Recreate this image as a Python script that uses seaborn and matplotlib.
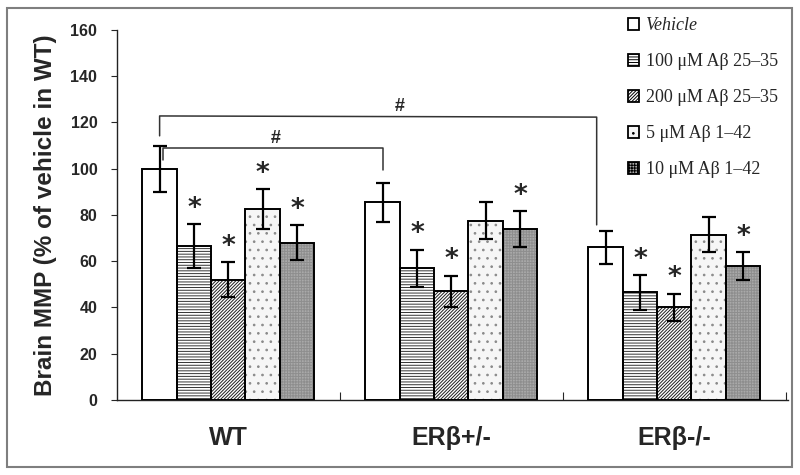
import numpy as np
import pandas as pd
import seaborn as sns
import matplotlib.pyplot as plt
from matplotlib.patches import Patch, Rectangle

# data
genotypes = ["WT", "ERβ+/-", "ERβ-/-"]
treatments = ["Vehicle", "100 μM Aβ 25–35", "200 μM Aβ 25–35",
              "5 μM Aβ 1–42", "10 μM Aβ 1–42"]
mmp_wt = [100, 66.5, 52, 82.5, 68]
mmp_het = [85.5, 57, 47, 77.5, 74]
mmp_ko = [66, 46.5, 40, 71.5, 58]
sem_wt = [10, 9.5, 7.5, 8.5, 7.5]
sem_het = [8.5, 8, 6.7, 8, 7.7]
sem_ko = [7, 7.5, 6, 7.5, 6]
# which bars carry a "*" (vs vehicle)
star_wt = [0, 1, 1, 1, 1]
star_het = [0, 1, 1, 0, 1]
star_ko = [0, 1, 1, 0, 1]

rows = []
for g, vals, errs, stars in zip(genotypes, [mmp_wt, mmp_het, mmp_ko],
                                [sem_wt, sem_het, sem_ko],
                                [star_wt, star_het, star_ko]):
    for t, v, e, s in zip(treatments, vals, errs, stars):
        rows.append({"genotype": g, "treatment": t, "mmp": v, "sem": e, "star": s})
df = pd.DataFrame(rows)

sns.set_style("white")
plt.rcParams["font.family"] = ["Liberation Sans", "DejaVu Sans"]
plt.rcParams["hatch.linewidth"] = 0.7

# per-treatment look: facecolor, hatch, hatch colour
faces = ["white", "white", "white", "#f6f6f6", "#a9a9a9"]
hatches = [None, "------", "//////////", "..", "++++++"]
hatch_cols = ["black", "#333333", "#1e1e1e", "#8a8a8a", "#8e8e8e"]

fig = plt.figure(figsize=(8, 4.75), dpi=100)
ax = fig.add_axes([0.146, 0.158, 0.839, 0.779])

sns.barplot(data=df, x="genotype", y="mmp", hue="treatment",
            order=genotypes, hue_order=treatments, errorbar=None,
            width=0.77, palette=["white"] * 5, legend=False, ax=ax)

bar_groups = list(ax.containers)
centers = {}
for k, cont in enumerate(bar_groups):
    sub = df[df["treatment"] == treatments[k]].set_index("genotype").loc[genotypes]
    for j, p in enumerate(cont.patches):
        p.set_facecolor(faces[k])
        p.set_edgecolor(hatch_cols[k])
        p.set_linewidth(0)
        if hatches[k]:
            p.set_hatch(hatches[k])
        ax.add_patch(Rectangle(p.get_xy(), p.get_width(), p.get_height(),
                               fill=False, ec="black", lw=1.4, zorder=3))
        xc = p.get_x() + p.get_width() / 2
        centers[(j, k)] = xc
        v, e, s = sub["mmp"].iloc[j], sub["sem"].iloc[j], sub["star"].iloc[j]
        ax.errorbar(xc, v, yerr=e, fmt="none", ecolor="black",
                    elinewidth=1.6, capsize=4.8, capthick=1.6, zorder=4)
        if s:
            ax.text(xc, v + e + 1.0, "*", ha="center", va="bottom",
                    fontsize=19, fontweight="bold", family="DejaVu Sans")

# significance brackets (#) vs WT vehicle
x0 = centers[(0, 0)]
x1 = centers[(1, 0)]
x2 = centers[(2, 0)] - 0.04
ax.plot([x0 + 0.015, x0 + 0.015, x1, x1], [103.8, 109, 109, 99.5],
        color="#333333", lw=1.1)
ax.text((x0 + x1) / 2 + 0.02, 109.3, "#", ha="center", va="bottom",
        fontsize=13, family="Liberation Sans", fontweight="bold")
ax.plot([x0, x0, x2, x2], [114.2, 122.8, 122.3, 75.7],
        color="#333333", lw=1.1)
ax.text(0.77, 123.0, "#", ha="center", va="bottom",
        fontsize=13, family="Liberation Sans", fontweight="bold")

ax.set_ylim(0, 160)
ax.set_xlim(-0.5, 2.51)
ax.set_yticks(np.arange(0, 161, 20))
ax.tick_params(axis="y", direction="out", length=4, width=0.8, pad=10,
               labelsize=11.5, left=True)
for lab in ax.get_yticklabels():
    lab.set_fontweight("bold")
ax.set_xticks(range(3))
ax.set_xticklabels(genotypes, fontsize=18, fontweight="bold")
ax.tick_params(axis="x", length=0, pad=19)
ax.set_xticks([0.5, 1.5, 2.5], minor=True)
ax.tick_params(axis="x", which="minor", direction="in", length=6, width=0.8,
               bottom=True)
ax.set_xlabel("")
ax.set_ylabel("Brain MMP (% of vehicle in WT)", fontsize=17.5,
              fontweight="bold", labelpad=10)
for side in ["top", "right"]:
    ax.spines[side].set_visible(False)
for side in ["left", "bottom"]:
    ax.spines[side].set_color("#222222")
    ax.spines[side].set_linewidth(1.0)

handles = [Patch(facecolor=faces[k], edgecolor="black", hatch=hatches[k], lw=1.3)
           for k in range(5)]
leg = ax.legend(handles, treatments, loc="upper left",
                bbox_to_anchor=(0.738, 1.078), frameon=False,
                prop={"family": "Liberation Serif", "size": 13},
                handlelength=0.6, handleheight=0.6, handletextpad=0.35,
                labelspacing=1.05)
leg.get_texts()[0].set_fontstyle("italic")

fig.patches.append(Rectangle((7 / 800, 8 / 475), 785 / 800, 459 / 475,
                             transform=fig.transFigure, fill=False,
                             ec="#7f7f7f", lw=1.5))

fig.savefig("out.png", dpi=100)
